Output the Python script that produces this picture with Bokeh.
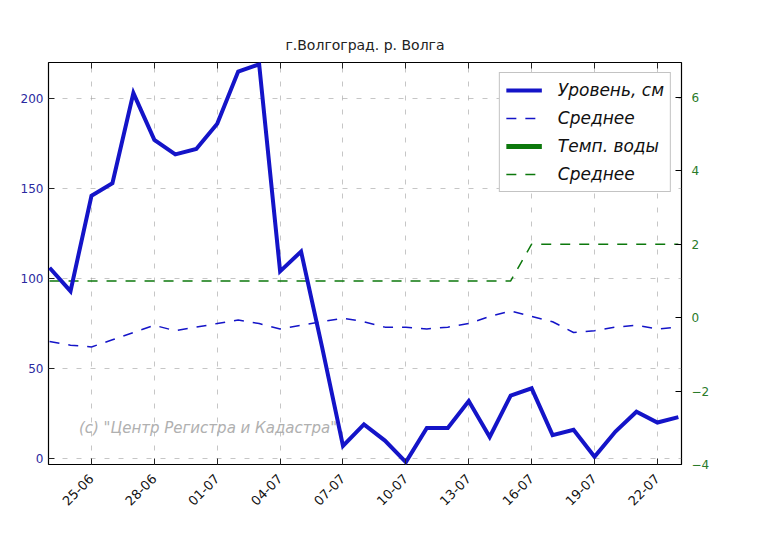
import math
from bokeh.plotting import figure
from bokeh.models import (Range1d, LinearAxis, FixedTicker, Legend, LegendItem, Label)
from bokeh.embed import file_html
from bokeh.resources import INLINE

dates = ["23-06", "24-06", "25-06", "26-06", "27-06", "28-06", "29-06", "30-06",
         "01-07", "02-07", "03-07", "04-07", "05-07", "06-07", "07-07", "08-07",
         "09-07", "10-07", "11-07", "12-07", "13-07", "14-07", "15-07", "16-07",
         "17-07", "18-07", "19-07", "20-07", "21-07", "22-07", "23-07"]
level = [106, 93, 146, 153, 203, 177, 169, 172, 186, 215, 219, 104, 115, 62, 7, 19,
         10, -2, 17, 17, 32, 12, 35, 39, 13, 16, 1, 15, 26, 20, 23]
level_mean = [65, 63, 62, 66, 70, 74, 71, 73, 75, 77, 75, 72, 74, 76, 78, 76,
              73, 73, 72, 73, 75, 79, 82, 79, 76, 70, 71, 73, 74, 72, 73]
# water temperature: no readings shown on the chart (legend entry only)
temp_water = [float("nan"), float("nan")]
temp_mean = [1, 1, 1, 1, 1, 1, 1, 1, 1, 1, 1, 1, 1, 1, 1, 1,
             1, 1, 1, 1, 1, 1, 1, 2, 2, 2, 2, 2, 2, 2, 2]
date_ticks = ["25-06", "28-06", "01-07", "04-07", "07-07", "10-07", "13-07",
              "16-07", "19-07", "22-07"]
level_ticks = [0, 50, 100, 150, 200]
temp_ticks = [-4, -2, 0, 2, 4, 6]
title = "г.Волгоград. р. Волга"
legend_labels = ["Уровень, см", "Среднее", "Темп. воды", "Среднее"]
watermark = "(с) \"Центр Регистра и Кадастра\""

x = list(range(len(dates)))
tick_idx = [dates.index(d) for d in date_ticks]

BLUE = "#1414c8"
GREEN = "#0c780c"

p = figure(width=758, height=546, output_backend="svg", toolbar_location=None,
           x_range=Range1d(-0.05, 30.15), y_range=Range1d(-3.3, 220),
           min_border_left=48, min_border_right=77, min_border_top=62, min_border_bottom=82,
           background_fill_color="white", border_fill_color="white")
p.extra_y_ranges = {"temp": Range1d(-4, 6.95)}

p.title.text = title
p.title.align = "center"
p.title.text_font = "DejaVu Sans"
p.title.text_font_size = "14px"
p.title.text_font_style = "normal"
p.title.text_color = "#222222"
p.title.standoff = 20

p.outline_line_color = "black"
p.outline_line_width = 1.2

# axes
p.xaxis.ticker = FixedTicker(ticks=tick_idx)
p.xaxis.major_label_overrides = {i: dates[i] for i in tick_idx}
p.xaxis.major_label_orientation = math.pi / 4
p.xaxis.major_label_standoff = 12
p.yaxis.ticker = FixedTicker(ticks=level_ticks)
for ax, col, fs in ((p.xaxis[0], "#111111", "13px"), (p.yaxis[0], "#2a2aa0", "12px")):
    ax.major_tick_in = 6
    ax.major_tick_out = 0
    ax.minor_tick_line_color = None
    ax.axis_line_color = None
    ax.major_label_text_font = "DejaVu Sans"
    ax.major_label_text_font_size = fs
    ax.major_label_text_color = col
    ax.major_tick_line_color = "#222222"

right = LinearAxis(y_range_name="temp", ticker=FixedTicker(ticks=temp_ticks))
right.major_label_overrides = {-4: "−4", -2: "−2"}
right.major_tick_in = 6
right.major_tick_out = 0
right.minor_tick_line_color = None
right.axis_line_color = None
right.major_label_text_font = "DejaVu Sans"
right.major_label_text_font_size = "12px"
right.major_label_text_color = "#2a7a2a"
right.major_label_standoff = 10
p.add_layout(right, "right")

top = LinearAxis(ticker=FixedTicker(ticks=tick_idx))
top.major_label_overrides = {i: "" for i in tick_idx}
top.major_label_standoff = 0
top.major_tick_in = 6
top.major_tick_out = 0
top.minor_tick_line_color = None
top.axis_line_color = None
top.major_tick_line_color = "#222222"
p.add_layout(top, "above")

# grid
p.xgrid.ticker = FixedTicker(ticks=tick_idx)
p.ygrid.ticker = FixedTicker(ticks=level_ticks)
for g in (p.xgrid[0], p.ygrid[0]):
    g.grid_line_color = "#a0a0a0"
    g.grid_line_dash = "5 9"
    g.grid_line_alpha = 0.6

wm = Label(x=1.4, y=12, text=watermark, text_font="DejaVu Sans", text_font_size="15px",
           text_font_style="italic", text_color="#b0b0b0")
p.add_layout(wm)

r_tw = p.line(x[:len(temp_water)], temp_water, y_range_name="temp",
              line_color=GREEN, line_width=5)
r_tm = p.line(x, temp_mean, y_range_name="temp", line_color=GREEN, line_width=1.5,
              line_dash="10 9")
r_lm = p.line(x, level_mean, line_color=BLUE, line_width=1.5, line_dash="10 9")
r_l = p.line(x, level, line_color=BLUE, line_width=4, line_join="miter")

legend = Legend(items=[LegendItem(label=legend_labels[0], renderers=[r_l]),
                       LegendItem(label=legend_labels[1], renderers=[r_lm]),
                       LegendItem(label=legend_labels[2], renderers=[r_tw]),
                       LegendItem(label=legend_labels[3], renderers=[r_tm])],
                location="top_right")
legend.margin = 10
legend.padding = 6
legend.spacing = 6
legend.label_text_font = "DejaVu Sans"
legend.label_text_font_style = "italic"
legend.label_text_font_size = "17px"
legend.label_text_color = "#111111"
legend.glyph_width = 36
legend.label_height = 22
legend.glyph_height = 22
legend.label_standoff = 16
legend.border_line_color = "#888888"
legend.background_fill_alpha = 1.0
p.add_layout(legend)

open("out.html", "w").write(file_html(p, INLINE))
